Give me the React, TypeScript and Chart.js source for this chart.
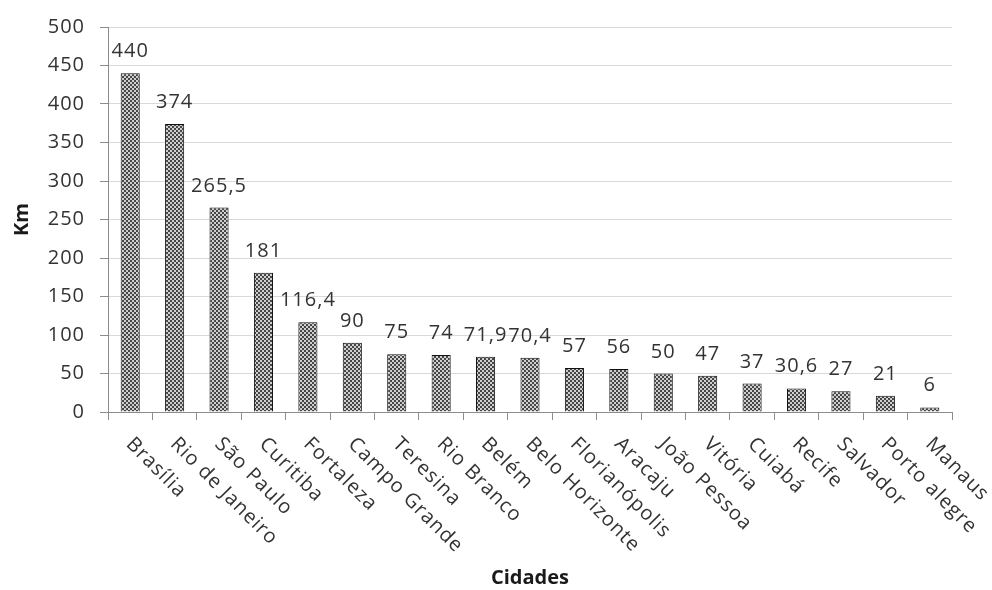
import React, { useEffect, useRef } from "react";
import { Chart, registerables } from "chart.js";

Chart.register(...registerables);

// Extensão (km) de ciclovias por capital
const cidades = [
  "Brasília",
  "Rio de Janeiro",
  "São Paulo",
  "Curitiba",
  "Fortaleza",
  "Campo Grande",
  "Teresina",
  "Rio Branco",
  "Belém",
  "Belo Horizonte",
  "Florianópolis",
  "Aracaju",
  "João Pessoa",
  "Vitória",
  "Cuiabá",
  "Recife",
  "Salvador",
  "Porto alegre",
  "Manaus",
];

const km = [440, 374, 265.5, 181, 116.4, 90, 75, 74, 71.9, 70.4, 57, 56, 50, 47, 37, 30.6, 27, 21, 6];

const yMin = 0;
const yMax = 500;
const yStep = 50;

const tituloY = "Km";
const tituloX = "Cidades";

const FONT = "'Open Sans', 'DejaVu Sans', sans-serif";
const TEXT = "#333333";
const AXIS = "#8c8c8c";

function makeHatch(): CanvasPattern | string {
  const tile = document.createElement("canvas");
  tile.width = 4;
  tile.height = 4;
  const c = tile.getContext("2d");
  if (!c) return "#808080";
  c.fillStyle = "#464646";
  c.fillRect(0, 0, 4, 4);
  c.fillStyle = "#cfcfcf";
  c.fillRect(0, 0, 2, 2);
  c.fillRect(2, 2, 2, 2);
  const main = document.createElement("canvas").getContext("2d");
  return (main && main.createPattern(tile, "repeat")) || "#808080";
}

const fmt = (v: number) => String(v).replace(".", ",");

// slightly looser text tracking for every label on the canvas
const tracking = {
  id: "tracking",
  beforeDraw(chart: any) {
    (chart.ctx as any).letterSpacing = "1px";
  },
};

// value labels above the bars, rotated category labels and axis titles
const decorations = {
  id: "decorations",
  afterDatasetsDraw(chart: any) {
    const ctx = chart.ctx;
    const meta = chart.getDatasetMeta(0);
    ctx.save();
    ctx.fillStyle = TEXT;
    ctx.font = `20px ${FONT}`;
    ctx.textAlign = "center";
    ctx.textBaseline = "alphabetic";
    meta.data.forEach((bar: any, i: number) => {
      ctx.fillText(fmt(km[i]), bar.x, bar.y - 16);
    });
    ctx.restore();
  },
  afterDraw(chart: any) {
    const ctx = chart.ctx;
    const xs = chart.scales.x;
    const area = chart.chartArea;
    ctx.save();
    ctx.fillStyle = TEXT;
    ctx.font = `20px ${FONT}`;
    ctx.textAlign = "left";
    ctx.textBaseline = "middle";
    cidades.forEach((c, i) => {
      const x = xs.getPixelForValue(i);
      ctx.save();
      ctx.translate(x - 1, area.bottom + 29);
      ctx.rotate(Math.PI / 4);
      ctx.fillText(c, 0, 0);
      ctx.restore();
    });

    (ctx as any).letterSpacing = "0px";
    ctx.font = `bold 20px ${FONT}`;
    ctx.textAlign = "center";
    ctx.textBaseline = "middle";
    ctx.fillStyle = "#1a1a1a";
    ctx.fillText(tituloX, (area.left + area.right) / 2, 578);

    ctx.save();
    ctx.translate(22, (area.top + area.bottom) / 2);
    ctx.rotate(-Math.PI / 2);
    ctx.fillText(tituloY, 0, 0);
    ctx.restore();
    ctx.restore();
  },
};

export default function App() {
  const ref = useRef<HTMLCanvasElement | null>(null);

  useEffect(() => {
    if (!ref.current) return;
    const chart = new Chart(ref.current, {
      type: "bar",
      data: {
        labels: cidades,
        datasets: [
          {
            data: km,
            backgroundColor: makeHatch() as any,
            borderColor: "#111111",
            borderWidth: 1,
            borderSkipped: "bottom",
            categoryPercentage: 1,
            barPercentage: 0.43,
          },
        ],
      },
      options: {
        responsive: false,
        animation: false,
        events: [],
        layout: { padding: { left: 0, top: 18.5, right: 40, bottom: 0 } },
        plugins: {
          legend: { display: false },
          tooltip: { enabled: false },
          title: { display: false },
        },
        scales: {
          x: {
            offset: true,
            grid: {
              offset: true,
              drawOnChartArea: false,
              drawTicks: true,
              tickLength: 8,
              tickColor: AXIS,
              lineWidth: 1,
            },
            border: { color: AXIS, width: 1 },
            ticks: { display: false },
            afterFit(scale: any) {
              scale.height = 178;
            },
          },
          y: {
            min: yMin,
            max: yMax,
            ticks: {
              stepSize: yStep,
              padding: 15,
              color: TEXT,
              font: { family: FONT, size: 20 },
            },
            grid: {
              color: "#d9d9d9",
              tickColor: AXIS,
              tickLength: 8,
              lineWidth: 1,
            },
            border: { color: AXIS, width: 1 },
            afterFit(scale: any) {
              scale.width = 108;
            },
          },
        },
      },
      plugins: [tracking, decorations],
    });
    return () => chart.destroy();
  }, []);

  return (
    <div style={{ position: "fixed", left: 0, top: 0, width: 992, height: 590, background: "#fff" }}>
      <canvas ref={ref} width={992} height={590} style={{ display: "block" }} />
    </div>
  );
}
